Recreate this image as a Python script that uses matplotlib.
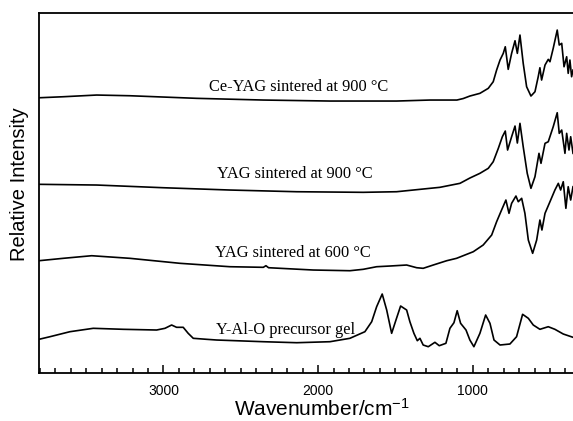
import matplotlib
matplotlib.use("Agg")
import matplotlib.pyplot as plt
from matplotlib.ticker import MultipleLocator

# wavenumber (cm-1) / relative intensity (arbitrary units)
ce_yag_wn = [3800, 3648, 3432, 3217, 2785, 2354, 1923, 1492, 1276, 1102, 1061, 1018, 953, 899,
             867, 845, 823, 802, 789, 770, 748, 726, 711, 694, 673, 651, 623, 597, 576, 565,
             554, 532, 511, 500, 479, 453, 440, 424, 409, 392, 382, 371, 360, 351]
ce_yag_i = [275.3, 276.3, 278, 277.3, 274.7, 273, 272, 272, 273, 273, 274.5, 277, 279.7, 284.7,
            291.3, 303, 313, 319.7, 326.3, 303.7, 319.7, 332.3, 319.7, 338, 309.7, 286.3, 277,
            281.3, 296.3, 305.3, 293, 308, 313.7, 311.3, 324.7, 343, 328, 329.7, 306.3, 316.3,
            299.7, 313, 296.3, 303]

yag900_wn = [3800, 3432, 3001, 2570, 2138, 1708, 1492, 1276, 1212, 1082, 1018, 953, 899, 867,
             834, 808, 789, 774, 748, 726, 711, 694, 673, 647, 623, 597, 571, 558, 532, 511,
             479, 453, 440, 424, 403, 392, 377, 366, 351]
yag900_i = [188.7, 188, 185.3, 183, 181.3, 180.7, 181.3, 184.7, 185.7, 189.7, 195, 199.7, 204.7,
            211.3, 224.7, 236.3, 242, 223, 236.3, 247, 230, 249.7, 226.3, 199.7, 184.7, 196.3,
            219.7, 209.7, 229.7, 231.3, 246.3, 260.3, 239.7, 243, 219.7, 239.7, 223, 236.3, 219.7]

yag600_wn = [3805, 3648, 3464, 3217, 2893, 2570, 2354, 2337, 2320, 2031, 1794, 1708, 1621, 1535,
             1427, 1362, 1320, 1255, 1168, 1104, 996, 932, 877, 845, 813, 785, 765, 748, 720,
             705, 683, 662, 640, 612, 586, 565, 552, 532, 500, 468, 446, 431, 414, 397, 382,
             366, 351]
yag600_i = [112.3, 114.7, 117.3, 114.7, 109.7, 106.3, 105.7, 107.3, 105.3, 103, 102.3, 103.7,
            106.3, 107, 108, 105.3, 104.7, 108, 112.3, 114.7, 121.3, 128, 138, 151.3, 163, 173,
            159.7, 169.7, 177, 171.3, 174.7, 159.7, 133, 119.7, 133, 153, 143, 159.7, 171.3,
            183, 189.7, 183, 191.3, 164.7, 186.3, 173, 186.3]

gel_wn = [3805, 3734, 3605, 3454, 3260, 3044, 2990, 2947, 2915, 2872, 2840, 2807, 2721, 2656,
          2354, 2138, 1923, 1794, 1697, 1653, 1621, 1585, 1556, 1524, 1496, 1466, 1427, 1406,
          1380, 1358, 1341, 1320, 1287, 1244, 1216, 1173, 1147, 1121, 1100, 1078, 1043, 1018,
          992, 953, 916, 888, 862, 823, 759, 716, 677, 640, 608, 565, 511, 468, 414, 351]
gel_i = [33.7, 36.3, 41.3, 44.7, 43.7, 43, 44.7, 48, 45.7, 45.7, 39.7, 34.7, 33.7, 33, 31.3,
         30.3, 31.3, 34.7, 41.3, 51.3, 66.3, 79, 63, 39.7, 53, 67, 63, 51.3, 39.7, 32.3, 34.7,
         28, 26.3, 30.7, 27.3, 29.7, 44.7, 50.3, 62.3, 49.7, 43, 33, 26.3, 39.7, 58, 49.7, 33,
         28, 29, 36.3, 58.7, 54.7, 48, 43.7, 46.3, 43.7, 39, 35.7]

labels = ["Ce-YAG sintered at 900 °C", "YAG sintered at 900 °C",
          "YAG sintered at 600 °C", "Y-Al-O precursor gel"]
label_wn = [2124, 2149, 2166, 2210]
label_i = [285.7, 199, 119.7, 43]

plt.rcParams["mathtext.default"] = "regular"

fig = plt.figure(figsize=(5.73, 4.21), dpi=100)
ax = fig.add_axes([0.068, 0.114, 0.932, 0.855])

for wn, inten in [(ce_yag_wn, ce_yag_i), (yag900_wn, yag900_i),
                  (yag600_wn, yag600_i), (gel_wn, gel_i)]:
    ax.plot(wn, inten, color="black", lw=1.2)

for txt, x, y in zip(labels, label_wn, label_i):
    ax.text(x, y, txt, ha="center", va="center", fontsize=11.8,
            family="Liberation Serif")

ax.set_xlim(3805, 351)
ax.set_ylim(0, 360)
ax.xaxis.set_major_locator(MultipleLocator(1000))
ax.xaxis.set_minor_locator(MultipleLocator(100))
ax.tick_params(axis="x", which="major", direction="in", length=6, width=1.1,
               labelsize=10, pad=8)
ax.tick_params(axis="x", which="minor", direction="in", length=3.5, width=1.1)
for lab in ax.get_xticklabels():
    lab.set_family("Liberation Sans")
ax.set_yticks([])
ax.spines["right"].set_visible(False)
for s in ["left", "top", "bottom"]:
    ax.spines[s].set_linewidth(1.3)

ax.set_xlabel("Wavenumber/cm$^{-1}$", fontsize=15, family="Liberation Sans")
ax.xaxis.label.set_verticalalignment("center")
ax.xaxis.set_label_coords(0.53, -0.1)
ax.set_ylabel("Relative Intensity", fontsize=14.5, family="Liberation Sans")
ax.yaxis.label.set_verticalalignment("center")
ax.yaxis.set_label_coords(-0.036, 0.525)

fig.savefig("out.png", dpi=100)
